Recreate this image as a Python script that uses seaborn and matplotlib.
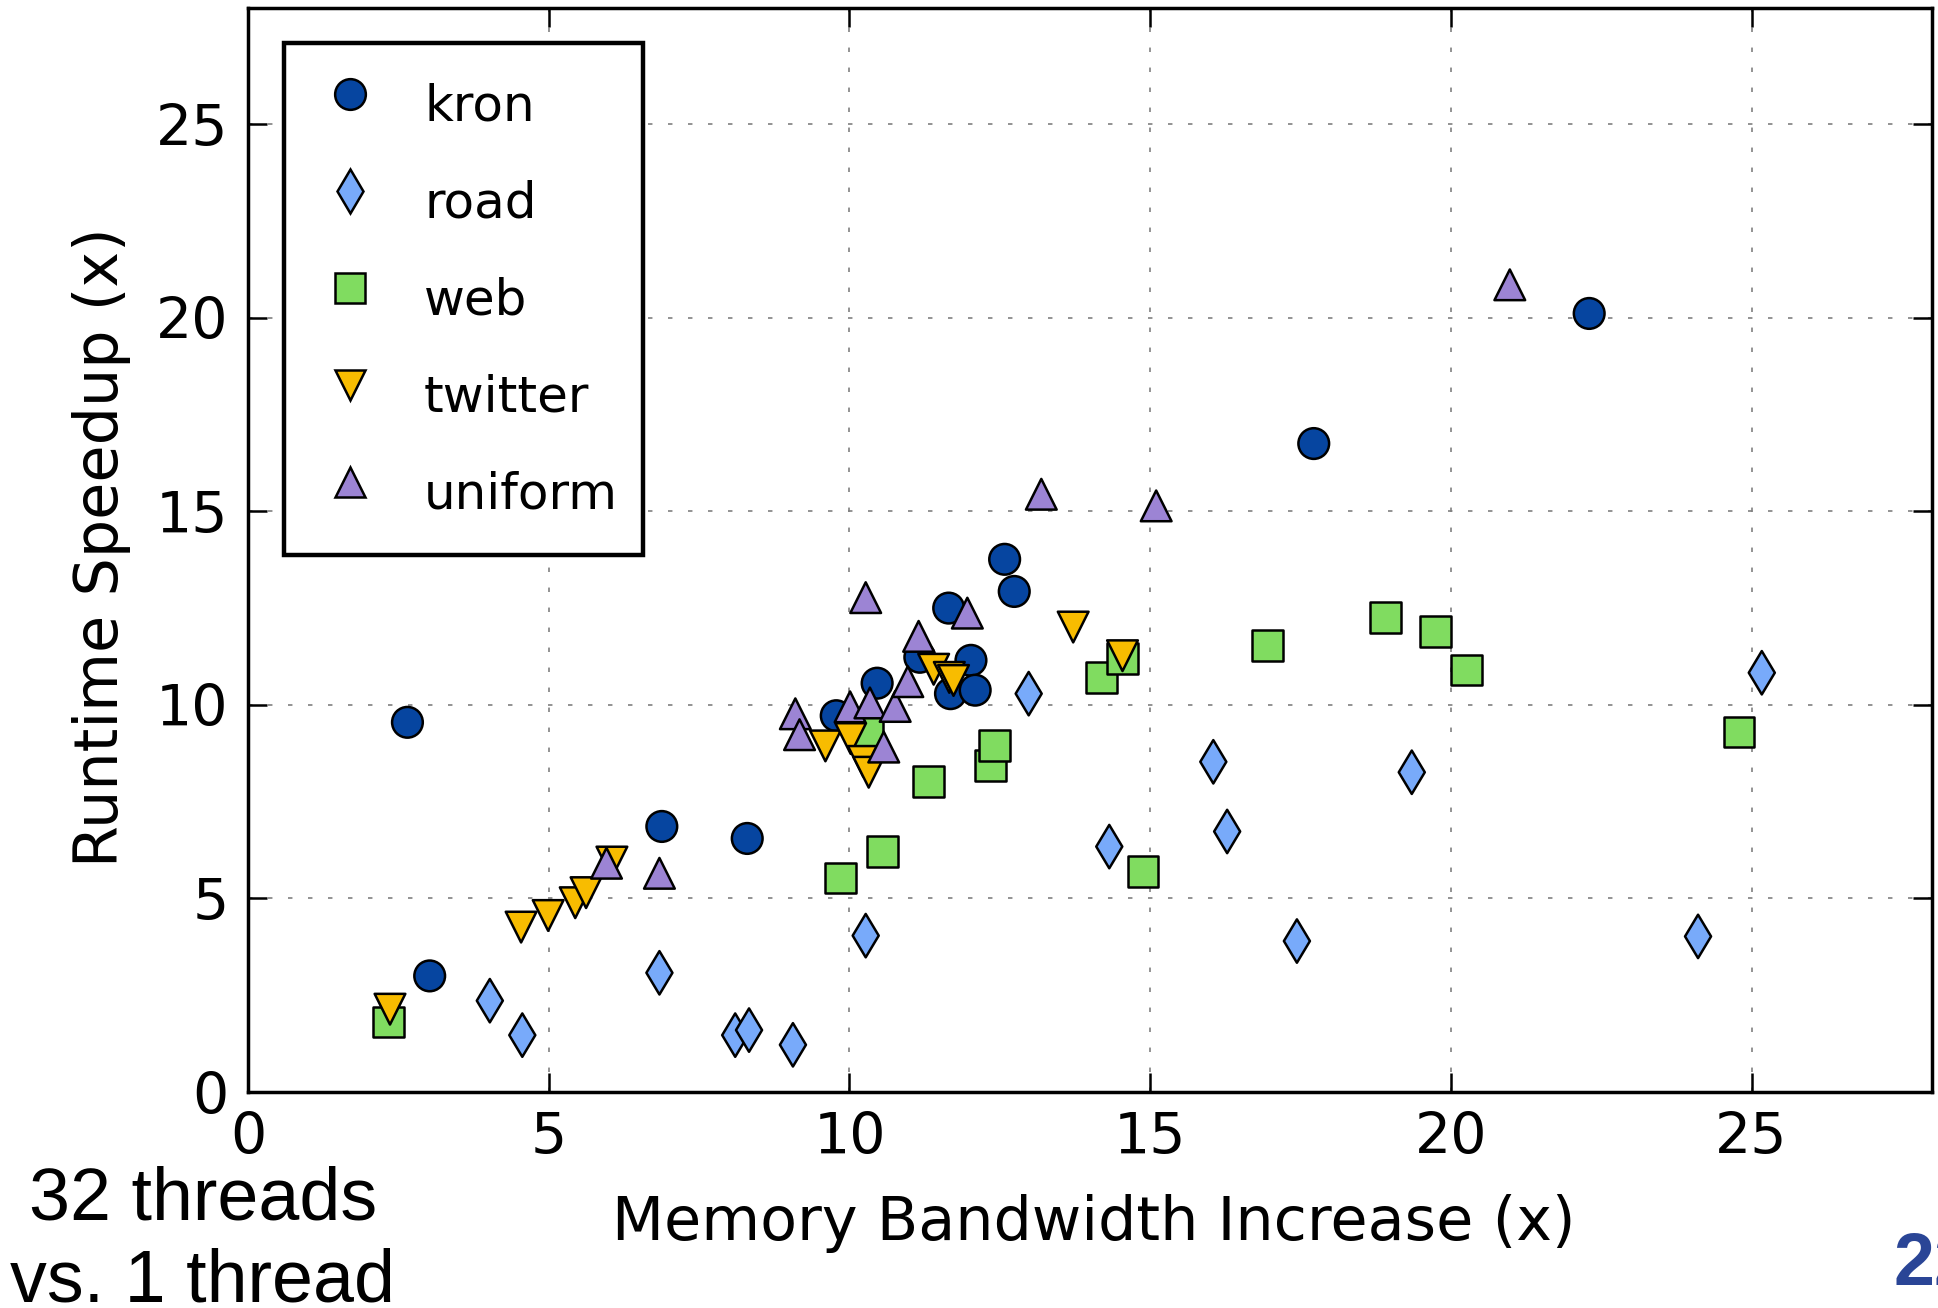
import matplotlib
matplotlib.use("Agg")
import matplotlib.pyplot as plt
from matplotlib.lines import Line2D
import pandas as pd
import seaborn as sns

# Graph inputs, in legend / drawing order
series = ["kron", "road", "web", "twitter", "uniform"]

kron_x = [2.65, 3.02, 6.88, 8.30, 9.78, 10.46, 11.17, 11.65, 11.68, 12.02, 12.09, 12.58, 12.74, 17.72, 22.30]
kron_y = [9.55, 3.00, 6.86, 6.55, 9.72, 10.56, 11.23, 12.50, 10.29, 11.15, 10.38, 13.76, 12.93, 16.75, 20.11]

road_x = [4.02, 4.56, 6.84, 8.10, 8.33, 9.06, 10.27, 12.98, 14.32, 16.05, 16.28, 17.44, 19.35, 24.11, 25.17]
road_y = [2.36, 1.47, 3.08, 1.47, 1.60, 1.22, 4.04, 10.29, 6.34, 8.53, 6.73, 3.90, 8.26, 4.02, 10.83]

web_x = [2.33, 9.85, 10.31, 10.55, 11.31, 12.35, 12.41, 14.19, 14.54, 14.88, 16.95, 18.91, 19.74, 20.26, 24.79]
web_y = [1.81, 5.53, 9.32, 6.22, 8.02, 8.43, 8.95, 10.70, 11.20, 5.69, 11.53, 12.25, 11.90, 10.90, 9.30]

twitter_x = [2.36, 4.54, 4.99, 5.44, 5.62, 6.05, 9.60, 10.02, 10.23, 10.32, 11.40, 11.66, 11.73, 13.72, 14.54]
twitter_y = [2.14, 4.26, 4.56, 4.89, 5.15, 5.94, 8.94, 9.13, 8.54, 8.26, 10.92, 10.71, 10.63, 12.01, 11.27]

uniform_x = [5.96, 6.84, 9.10, 9.17, 10.01, 10.27, 10.34, 10.57, 10.76, 10.97, 11.15, 11.96, 13.19, 15.10, 20.98]
uniform_y = [5.91, 5.65, 9.77, 9.23, 9.95, 12.77, 10.05, 8.91, 9.96, 10.60, 11.77, 12.37, 15.44, 15.14, 20.85]

ticks = [0, 5, 10, 15, 20, 25]

colors = {
    "kron": "#0645A0",
    "road": "#78AAFA",
    "web": "#80DC60",
    "twitter": "#F8BC00",
    "uniform": "#9C84D4",
}
markers = {"kron": "o", "road": "d", "web": "s", "twitter": "v", "uniform": "^"}

xs = {"kron": kron_x, "road": road_x, "web": web_x, "twitter": twitter_x, "uniform": uniform_x}
ys = {"kron": kron_y, "road": road_y, "web": web_y, "twitter": twitter_y, "uniform": uniform_y}
df = pd.concat(
    [pd.DataFrame({"bw": xs[g], "speedup": ys[g], "graph": g}) for g in series],
    ignore_index=True,
)

sns.set_theme(style="ticks")
plt.rcParams["font.family"] = ["DejaVu Sans"]
plt.rcParams["lines.scale_dashes"] = False
for key in ("text.color", "axes.labelcolor", "xtick.color", "ytick.color", "axes.edgecolor"):
    plt.rcParams[key] = "black"

fig = plt.figure(figsize=(19.38, 13.08), dpi=100)
ax = fig.add_axes([0.128, 0.1651, 0.8689, 0.8288])

MS = 22.1  # marker size in points
sns.scatterplot(
    data=df, x="bw", y="speedup", hue="graph", style="graph",
    hue_order=series, style_order=series, palette=colors, markers=markers,
    s=MS ** 2, edgecolor="black", linewidth=1.8, legend=False, ax=ax, zorder=3,
)

ax.set_xlim(0, 28)
ax.set_ylim(0, 28)
ax.set_xticks(ticks)
ax.set_yticks(ticks)
ax.grid(True, color="#808080", linestyle=(0, (3.2, 11.2)), linewidth=1.2)
ax.set_axisbelow(True)

for sp in ax.spines.values():
    sp.set_visible(True)
    sp.set_color("black")
    sp.set_linewidth(2.5)

ax.tick_params(direction="in", length=14, width=1.8, top=True, right=True,
               labelsize=41, pad=14, color="black", labelcolor="black")

ax.set_xlabel("Memory Bandwidth Increase (x)", fontsize=43.5, color="black")
ax.set_ylabel("Runtime Speedup (x)", fontsize=43.5, color="black")
ax.xaxis.set_label_coords(0.502, -0.094)
ax.yaxis.set_label_coords(-0.0695, 0.503)

handles = [
    Line2D([], [], linestyle="", marker=markers[g], markersize=MS,
           markerfacecolor=colors[g], markeredgecolor="black", markeredgewidth=1.8)
    for g in series
]
leg = ax.legend(
    handles, series, loc="upper left", bbox_to_anchor=(0.0214, 0.9677),
    borderaxespad=0, frameon=True, fancybox=False, framealpha=1,
    edgecolor="black", fontsize=36, borderpad=0.5, labelspacing=0.46,
    handlelength=1.62, handleheight=1.9, handletextpad=0.68,
)
leg.get_frame().set_linewidth(3.2)
leg.set_zorder(5)
for t in leg.get_texts():
    t.set_color("black")

fig.text(203 / 1938, 1 - 1220 / 1308, "32 threads", ha="center", va="baseline",
         fontsize=53, color="black", family=["Liberation Sans", "DejaVu Sans"])
fig.text(203 / 1938, 1 - 1302 / 1308, "vs. 1 thread", ha="center", va="baseline",
         fontsize=53, color="black", family=["Liberation Sans", "DejaVu Sans"])
fig.text(1894 / 1938, 1 - 1285 / 1308, "22", ha="left", va="baseline",
         fontsize=53, fontweight="bold", color="#2A4596",
         family=["Liberation Sans", "DejaVu Sans"])

fig.savefig("out.png", dpi=100)
